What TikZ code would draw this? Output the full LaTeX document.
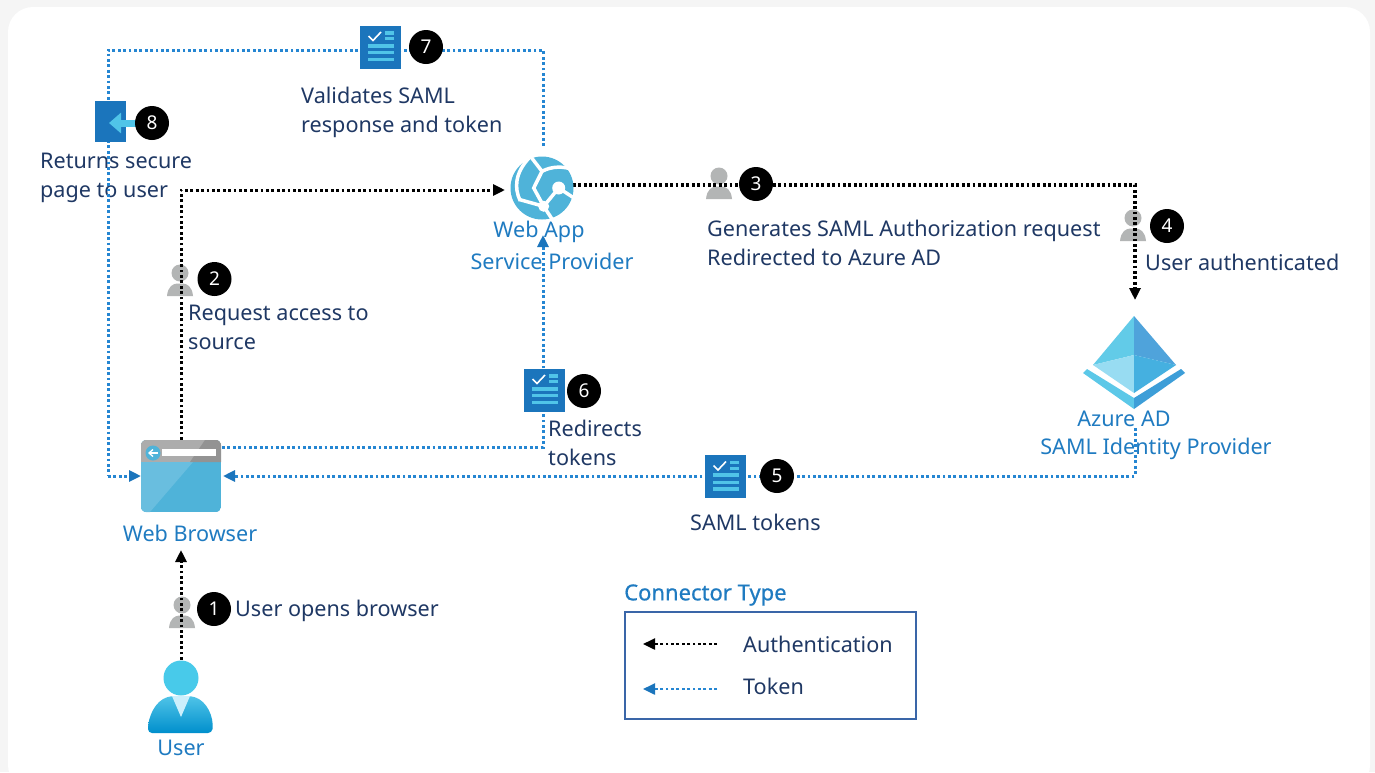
\documentclass[tikz,border=0pt]{standalone}
\usepackage{fontspec}
\setmainfont{Noto Sans}
\newfontfamily\semibold[FakeBold=0.7]{Noto Sans}
\usetikzlibrary{arrows.meta}
\usetikzlibrary{positioning}
\definecolor{navy}{HTML}{1F3864}
\definecolor{azblue}{HTML}{1F7BC1}
\definecolor{docblue}{HTML}{1B75BC}
\definecolor{barblue}{HTML}{50C4E8}
\definecolor{skyblue}{HTML}{4FB3D9}
\definecolor{tokblue}{HTML}{2586D2}
\definecolor{persongray}{HTML}{B3B5B5}
\definecolor{legendblue}{HTML}{3A66A8}
\definecolor{aztopl}{HTML}{62CBE8}
\definecolor{aztopr}{HTML}{4FA3DB}
\definecolor{azlowl}{HTML}{98DCF2}
\definecolor{azlowr}{HTML}{45B0E0}
\definecolor{azbandl}{HTML}{5CC8E8}
\definecolor{azbandr}{HTML}{3D9ED8}
\tikzset{
  pics/docicon/.style={code={
    \fill[docblue] (-20.5,-21.5) rectangle (20.5,21.5);
    \draw[white, line width=1.6pt] (-12,-11) -- (-7.5,-6.5) -- (0.5,-15);
    \fill[barblue] (4.5,-16) rectangle (13,-12.5);
    \fill[barblue] (4.5,-10) rectangle (13,-6.7);
    \fill[barblue] (-12.5,-3.3) rectangle (13,0.7);
    \fill[barblue] (-12.5,4) rectangle (13,7.3);
    \fill[barblue] (-12.5,10.7) rectangle (13,14);
  }},
  pics/personicon/.style={code={
    \fill[persongray] (0,-8) circle (8.5);
    \fill[persongray] (-13,15) .. controls (-12,5) and (-7,3) .. (-3,2.5) -- (3,2.5) .. controls (7,3) and (12,5) .. (13,15) -- cycle;
  }}
}
\begin{document}
\begin{tikzpicture}[x=1pt, y=-1pt]
 \tikzstyle{bodytext}=[text=navy, font=\fontsize{21.6}{29}\selectfont, align=left, inner sep=0pt, anchor=west]
 \tikzstyle{azlabel}=[text=azblue, font=\fontsize{21.6}{32}\selectfont, align=center, inner sep=0pt]
 \tikzstyle{numnode}=[circle, fill=black, text=white, minimum size=34pt, inner sep=0pt, font=\fontsize{19}{19}\selectfont]
 \tikzstyle{iconbox}=[rectangle, inner sep=0pt]
 \tikzstyle{authline}=[draw, black, line width=3pt, dash pattern=on 2.8pt off 2.6pt, -{Triangle[length=12pt, width=11pt, color=black, fill=black]}]
 \tikzstyle{tokenline}=[draw, tokblue, line width=3pt, dash pattern=on 2.8pt off 2.6pt, -{Triangle[length=12pt, width=11pt, color=docblue, fill=docblue]}]
 \tikzstyle{tokenlead}=[draw, tokblue, line width=3pt, dash pattern=on 2.8pt off 2.6pt]

 \useasboundingbox (0,0) rectangle (1375,772);
 \fill[black!4] (0,0) rectangle (1375,772);
 \begin{scope}
  \clip (0,0) rectangle (1375,772);
  \fill[white, rounded corners=25pt] (8,7) rectangle (1370,790);
 \end{scope}

 % anchors for the connectors
 \node[iconbox, minimum width=64pt, minimum height=74pt] (user) at (181,697) {};
 \node[iconbox, minimum width=80pt, minimum height=72pt] (browser) at (181,476) {};
 \node[iconbox, minimum width=62pt, minimum height=64pt] (webapp) at (542,188) {};
 \node[iconbox, minimum width=102pt, minimum height=93pt] (azure) at (1134,362) {};
 \coordinate (usertip) at (181,550);
 \coordinate (webtip) at (505,190);
 \coordinate (webout) at (573,185);
 \coordinate (azcorner) at (1135,185);
 \coordinate (aztip) at (1135,300);
 \coordinate (azout) at (1135,428);
 \coordinate (samlturn) at (1135,476);
 \coordinate (brright) at (223,476);
 \coordinate (redirstart) at (222,447);
 \coordinate (redirturn) at (543,447);
 \coordinate (webin) at (543,235);
 \coordinate (valstart) at (543,146);
 \coordinate (valturn) at (543,50);
 \coordinate (backturn) at (108,50);
 \coordinate (backend) at (108,476);
 \coordinate (brleft) at (141,476);

 % people sit under the dots
 \pic at (182,613) {personicon};
 \pic at (180,281) {personicon};
 \pic at (719,184) {personicon};
 \pic at (1133,226) {personicon};

 % labels
 \node[azlabel] (userlabel) at (181,748) {User};
 \node[azlabel] (browserlabel) at (190,533) {Web Browser};
 \node[azlabel] (weblabel) at (552,245) {\hspace*{-26pt}Web App\\Service Provider};
 \node[azlabel, font=\fontsize{21.6}{28}\selectfont] (azlabel) at (1156,435) {\hspace*{-64pt}Azure AD\\SAML Identity Provider};
 \node[bodytext] (t1) at (235,611) {User opens browser};
 \node[bodytext] (t2) at (188,327) {Request access to\\source};
 \node[bodytext] (t3) at (707,243) {Generates SAML Authorization request\\Redirected to Azure AD};
 \node[bodytext] (t4) at (1145,262) {User authenticated};
 \node[bodytext] (t5) at (690,522) {SAML tokens};
 \node[bodytext] (t6) at (548,443) {Redirects\\tokens};
 \node[bodytext] (t7) at (301,112) {Validates SAML\\response and token};
 \node[bodytext] (t8) at (40,178) {Returns secure\\page to user};

 % connectors
 \path [authline] (user.north) -- (usertip);
 \path [authline] (browser.north) |- (webtip);
 \path [authline, line width=3.6pt] (webout) -- (azcorner) -- (aztip);
 \path [tokenline] (azout) -- (samlturn) -- (brright);
 \path [tokenline] (redirstart) -- (redirturn) -- (webin);
 \path [tokenlead] (valstart) -- (valturn) -- (backturn) -- (backend);
 \path [tokenline] (backend) -- (brleft);

 % user
 \begin{scope}[shift={(user.center)}]
  \shade[top color=barblue, bottom color=cyan!70!blue!80!black, rounded corners=4pt] (-33,36) .. controls (-33,20) and (-26,4) .. (-10,-1) -- (10,-1) .. controls (26,4) and (33,20) .. (31,36) -- cycle;
  \fill[cyan!20!white] (-9,-1) -- (9,-1) -- (0,20) -- cycle;
  \fill[barblue!90!cyan] (0,-19) circle (17.5);
 \end{scope}

 % browser
 \begin{scope}
  \clip[rounded corners=6pt] (browser.south west) rectangle (browser.north east);
  \fill[skyblue] (browser.south west) rectangle (browser.north east);
  \fill[skyblue!85!white] (141,462) -- (193,462) -- (150,512) -- (141,512) -- cycle;
  \fill[gray!65!white] (141,440) rectangle (221,462);
  \fill[gray!85!white] (205,440) -- (221,440) -- (221,462) -- (190,462) -- cycle;
  \fill[white] (162,449) rectangle (216,456);
  \fill[skyblue] (153,453) circle (7.5);
  \draw[white, line width=1.3pt] (158,453) -- (149,453);
  \draw[white, line width=1.3pt] (153,449.5) -- (149,453) -- (153,456.5);
 \end{scope}

 % web app globe
 \begin{scope}[shift={(webapp.center)}]
  \fill[skyblue] (0,0) circle (31.5);
  \draw[white, line width=3.5pt] (-13,-30) .. controls (-27,-15) and (-28,0) .. (-21.7,13);
  \draw[white, line width=3.5pt] (-11,-31) -- (0,-16.7) .. controls (10,-22) and (22,-22) .. (32,-18);
  \draw[white, line width=3.5pt] (0,-16.7) -- (-8.3,0) -- (1.7,18.3) -- (16.7,0) -- (32,10);
  \draw[white, line width=3.5pt] (1.7,18.3) -- (-22,11.7);
  \draw[white, line width=3.5pt] (1.7,18.3) -- (12,34);
  \fill[white] (16.7,0) circle (6.5);
  \fill[white] (1.7,18.3) circle (5.5);
 \end{scope}

 % azure
 \begin{scope}[shift={(azure.center)}]
  \fill[aztopl] (0,-46) -- (-41,3) -- (0,-7) -- cycle;
  \fill[aztopr] (0,-46) -- (42,3) -- (0,-7) -- cycle;
  \fill[azlowl] (-41,3) -- (0,-7) -- (0,31) -- cycle;
  \fill[azlowr] (42,3) -- (0,-7) -- (0,31) -- cycle;
  \fill[azbandl] (-51,11) -- (-47,7) -- (0,36) -- (0,47) -- cycle;
  \fill[azbandr] (51,11) -- (47,7) -- (0,36) -- (0,47) -- cycle;
 \end{scope}

 % documents and door
 \pic at (380.5,47) {docicon};
 \pic at (544.5,390) {docicon};
 \pic at (725.5,476.5) {docicon};
 \node[iconbox, fill=docblue, minimum width=31pt, minimum height=41pt] (door) at (110.5,121.5) {};
 \draw[barblue, line width=7pt, -{Triangle[length=12pt, width=20pt]}] (137,123) -- (109,123);

 % numbers
 \node[numnode] (n1) at (214,609) {1};
 \node[numnode] (n2) at (214.5,279) {2};
 \node[numnode] (n3) at (756,184) {3};
 \node[numnode] (n4) at (1167,226) {4};
 \node[numnode] (n5) at (777,476) {5};
 \node[numnode] (n6) at (584,391) {6};
 \node[numnode] (n7) at (426,47) {7};
 \node[numnode] (n8) at (152,123) {8};

 % legend
 \node[text=azblue, font=\semibold\fontsize{22}{24}\selectfont, inner sep=0pt, anchor=west] (legtitle) at (624,595) {Connector Type};
 \node[draw=legendblue, line width=2.4pt, minimum width=291pt, minimum height=107pt, inner sep=0pt] (legend) at (770.5,665.5) {};
 \coordinate (authr) at (717,644);
 \coordinate (authl) at (643,644);
 \coordinate (tokr) at (717,689);
 \coordinate (tokl) at (643,689);
 \path [authline, line width=2.4pt] (authr) -- (authl);
 \path [tokenline, line width=2.4pt] (tokr) -- (tokl);
 \node[bodytext] (legauth) at (743,644) {Authentication};
 \node[bodytext] (legtok) at (743,686) {Token};
\end{tikzpicture}
\end{document}
